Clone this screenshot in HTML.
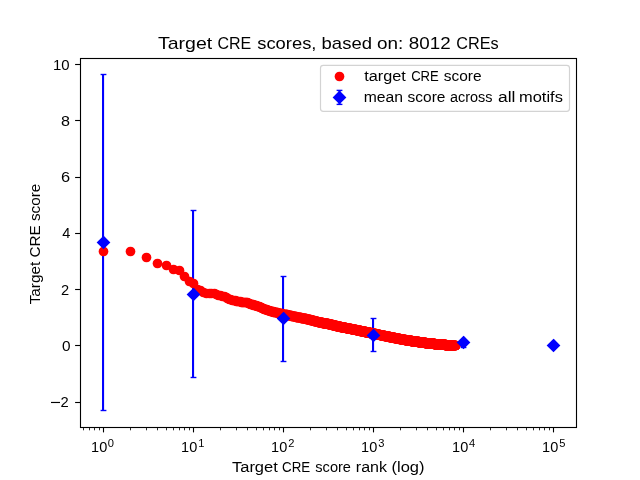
<!DOCTYPE html>
<html><head><meta charset="utf-8"><style>
html,body{margin:0;padding:0;background:#fff;width:640px;height:480px;overflow:hidden}
svg{display:block;will-change:transform}
text{font-family:"Liberation Sans",sans-serif}
</style></head><body>
<svg width="640" height="480" viewBox="0 0 640 480">
<rect width="640" height="480" fill="#fff"/>
<g stroke="#0000ff" stroke-width="2.08"><line x1="103.05" y1="74.5" x2="103.05" y2="410.5"/><line x1="193.05" y1="210.5" x2="193.05" y2="377.5"/><line x1="283.05" y1="276.5" x2="283.05" y2="361.5"/><line x1="373.05" y1="318.5" x2="373.05" y2="351.5"/></g>
<g class="m" fill="#ff0000"><circle cx="103.5" cy="251.5" r="4.86"/><circle cx="130.5" cy="251.5" r="4.86"/><circle cx="146.5" cy="257.5" r="4.86"/><circle cx="157.5" cy="263.5" r="4.86"/><circle cx="166.5" cy="265.5" r="4.86"/><circle cx="173.5" cy="269.5" r="4.86"/><circle cx="179.5" cy="270.5" r="4.86"/><circle cx="184.5" cy="276.5" r="4.86"/><circle cx="189.5" cy="281.5" r="4.86"/><circle cx="193.5" cy="283.5" r="4.86"/><circle cx="197.5" cy="289.5" r="4.86"/><circle cx="200.5" cy="290.5" r="4.86"/><circle cx="203.5" cy="292.5" r="4.86"/><circle cx="206.5" cy="293.5" r="4.86"/><circle cx="209.5" cy="293.5" r="4.86"/><circle cx="211.5" cy="293.5" r="4.86"/><circle cx="214.5" cy="293.5" r="4.86"/><circle cx="216.5" cy="294.5" r="4.86"/><circle cx="218.5" cy="295.5" r="4.86"/><circle cx="220.5" cy="295.5" r="4.86"/><circle cx="222.5" cy="296.5" r="4.86"/><circle cx="224.5" cy="296.5" r="4.86"/><circle cx="226.5" cy="297.5" r="4.86"/><circle cx="227.5" cy="298.5" r="4.86"/><circle cx="229.5" cy="299.5" r="4.86"/><circle cx="230.5" cy="299.5" r="4.86"/><circle cx="232.5" cy="300.5" r="4.86"/><circle cx="233.5" cy="300.5" r="4.86"/><circle cx="235.5" cy="300.5" r="4.86"/><circle cx="236.5" cy="301.5" r="4.86"/><circle cx="237.5" cy="301.5" r="4.86"/><circle cx="238.5" cy="301.5" r="4.86"/><circle cx="240.5" cy="301.5" r="4.86"/><circle cx="241.5" cy="302.5" r="4.86"/><circle cx="242.5" cy="302.5" r="4.86"/><circle cx="243.5" cy="302.5" r="4.86"/><circle cx="244.5" cy="302.5" r="4.86"/><circle cx="245.5" cy="302.5" r="4.86"/><circle cx="246.5" cy="302.5" r="4.86"/><circle cx="247.5" cy="302.5" r="4.86"/><circle cx="248.5" cy="303.5" r="4.86"/><circle cx="249.5" cy="303.5" r="4.86"/><circle cx="250.5" cy="304.5" r="4.86"/><circle cx="251.5" cy="304.5" r="4.86"/><circle cx="252.5" cy="304.5" r="4.86"/><circle cx="253.5" cy="304.5" r="4.86"/><circle cx="253.5" cy="305.5" r="4.86"/><circle cx="254.5" cy="305.5" r="4.86"/><circle cx="255.5" cy="305.5" r="4.86"/><circle cx="256.5" cy="305.5" r="4.86"/><circle cx="257.5" cy="306.5" r="4.86"/><circle cx="257.5" cy="306.5" r="4.86"/><circle cx="258.5" cy="306.5" r="4.86"/><circle cx="259.5" cy="306.5" r="4.86"/><circle cx="260.5" cy="307.5" r="4.86"/><circle cx="260.5" cy="307.5" r="4.86"/><circle cx="261.5" cy="307.5" r="4.86"/><circle cx="262.5" cy="308.5" r="4.86"/><circle cx="262.5" cy="308.5" r="4.86"/><circle cx="263.5" cy="308.5" r="4.86"/><circle cx="264.5" cy="309.5" r="4.86"/><circle cx="264.5" cy="309.5" r="4.86"/><circle cx="265.5" cy="309.5" r="4.86"/><circle cx="266.5" cy="309.5" r="4.86"/><circle cx="266.5" cy="309.5" r="4.86"/><circle cx="267.5" cy="310.5" r="4.86"/><circle cx="267.5" cy="310.5" r="4.86"/><circle cx="268.5" cy="310.5" r="4.86"/><circle cx="268.5" cy="310.5" r="4.86"/><circle cx="269.5" cy="310.5" r="4.86"/><circle cx="270.5" cy="311.5" r="4.86"/><circle cx="270.5" cy="311.5" r="4.86"/><circle cx="271.5" cy="311.5" r="4.86"/><circle cx="271.5" cy="311.5" r="4.86"/><circle cx="272.5" cy="311.5" r="4.86"/><circle cx="272.5" cy="311.5" r="4.86"/><circle cx="273.5" cy="311.5" r="4.86"/><circle cx="273.5" cy="312.5" r="4.86"/><circle cx="274.5" cy="312.5" r="4.86"/><circle cx="274.5" cy="312.5" r="4.86"/><circle cx="275.5" cy="312.5" r="4.86"/><circle cx="275.5" cy="312.5" r="4.86"/><circle cx="276.5" cy="312.5" r="4.86"/><circle cx="276.5" cy="312.5" r="4.86"/><circle cx="277.5" cy="312.5" r="4.86"/><circle cx="277.5" cy="312.5" r="4.86"/><circle cx="278.5" cy="313.5" r="4.86"/><circle cx="278.5" cy="313.5" r="4.86"/><circle cx="278.5" cy="313.5" r="4.86"/><circle cx="279.5" cy="313.5" r="4.86"/><circle cx="279.5" cy="313.5" r="4.86"/><circle cx="280.5" cy="313.5" r="4.86"/><circle cx="280.5" cy="313.5" r="4.86"/><circle cx="281.5" cy="313.5" r="4.86"/><circle cx="281.5" cy="313.5" r="4.86"/><circle cx="281.5" cy="313.5" r="4.86"/><circle cx="282.5" cy="314.5" r="4.86"/><circle cx="282.5" cy="314.5" r="4.86"/><circle cx="283.5" cy="314.5" r="4.86"/><circle cx="283.5" cy="314.5" r="4.86"/><circle cx="283.5" cy="314.5" r="4.86"/><circle cx="284.5" cy="314.5" r="4.86"/><circle cx="284.5" cy="314.5" r="4.86"/><circle cx="284.5" cy="314.5" r="4.86"/><circle cx="285.5" cy="314.5" r="4.86"/><circle cx="285.5" cy="314.5" r="4.86"/><circle cx="286.5" cy="314.5" r="4.86"/><circle cx="286.5" cy="314.5" r="4.86"/><circle cx="286.5" cy="314.5" r="4.86"/><circle cx="287.5" cy="314.5" r="4.86"/><circle cx="287.5" cy="315.5" r="4.86"/><circle cx="287.5" cy="315.5" r="4.86"/><circle cx="288.5" cy="315.5" r="4.86"/><circle cx="288.5" cy="315.5" r="4.86"/><circle cx="288.5" cy="315.5" r="4.86"/><circle cx="289.5" cy="315.5" r="4.86"/><circle cx="289.5" cy="315.5" r="4.86"/><circle cx="289.5" cy="315.5" r="4.86"/><circle cx="290.5" cy="315.5" r="4.86"/><circle cx="290.5" cy="315.5" r="4.86"/><circle cx="290.5" cy="315.5" r="4.86"/><circle cx="291.5" cy="315.5" r="4.86"/><circle cx="291.5" cy="315.5" r="4.86"/><circle cx="291.5" cy="316.5" r="4.86"/><circle cx="292.5" cy="316.5" r="4.86"/><circle cx="292.5" cy="316.5" r="4.86"/><circle cx="292.5" cy="316.5" r="4.86"/><circle cx="293.5" cy="316.5" r="4.86"/><circle cx="293.5" cy="316.5" r="4.86"/><circle cx="293.5" cy="316.5" r="4.86"/><circle cx="294.5" cy="316.5" r="4.86"/><circle cx="294.5" cy="316.5" r="4.86"/><circle cx="294.5" cy="316.5" r="4.86"/><circle cx="294.5" cy="316.5" r="4.86"/><circle cx="295.5" cy="316.5" r="4.86"/><circle cx="295.5" cy="316.5" r="4.86"/><circle cx="295.5" cy="316.5" r="4.86"/><circle cx="296.5" cy="316.5" r="4.86"/><circle cx="296.5" cy="317.5" r="4.86"/><circle cx="296.5" cy="317.5" r="4.86"/><circle cx="296.5" cy="317.5" r="4.86"/><circle cx="297.5" cy="317.5" r="4.86"/><circle cx="297.5" cy="317.5" r="4.86"/><circle cx="297.5" cy="317.5" r="4.86"/><circle cx="297.5" cy="317.5" r="4.86"/><circle cx="298.5" cy="317.5" r="4.86"/><circle cx="298.5" cy="317.5" r="4.86"/><circle cx="298.5" cy="317.5" r="4.86"/><circle cx="299.5" cy="317.5" r="4.86"/><circle cx="299.5" cy="317.5" r="4.86"/><circle cx="299.5" cy="317.5" r="4.86"/><circle cx="299.5" cy="317.5" r="4.86"/><circle cx="300.5" cy="317.5" r="4.86"/><circle cx="300.5" cy="317.5" r="4.86"/><circle cx="300.5" cy="317.5" r="4.86"/><circle cx="300.5" cy="317.5" r="4.86"/><circle cx="301.5" cy="317.5" r="4.86"/><circle cx="301.5" cy="318.5" r="4.86"/><circle cx="301.5" cy="318.5" r="4.86"/><circle cx="301.5" cy="318.5" r="4.86"/><circle cx="302.5" cy="318.5" r="4.86"/><circle cx="302.5" cy="318.5" r="4.86"/><circle cx="302.5" cy="318.5" r="4.86"/><circle cx="302.5" cy="318.5" r="4.86"/><circle cx="303.5" cy="318.5" r="4.86"/><circle cx="303.5" cy="318.5" r="4.86"/><circle cx="303.5" cy="318.5" r="4.86"/><circle cx="303.5" cy="318.5" r="4.86"/><circle cx="303.5" cy="318.5" r="4.86"/><circle cx="304.5" cy="318.5" r="4.86"/><circle cx="304.5" cy="318.5" r="4.86"/><circle cx="304.5" cy="318.5" r="4.86"/><circle cx="304.5" cy="318.5" r="4.86"/><circle cx="305.5" cy="318.5" r="4.86"/><circle cx="305.5" cy="318.5" r="4.86"/><circle cx="305.5" cy="318.5" r="4.86"/><circle cx="305.5" cy="318.5" r="4.86"/><circle cx="305.5" cy="318.5" r="4.86"/><circle cx="306.5" cy="318.5" r="4.86"/><circle cx="306.5" cy="319.5" r="4.86"/><circle cx="306.5" cy="319.5" r="4.86"/><circle cx="306.5" cy="319.5" r="4.86"/><circle cx="307.5" cy="319.5" r="4.86"/><circle cx="307.5" cy="319.5" r="4.86"/><circle cx="307.5" cy="319.5" r="4.86"/><circle cx="307.5" cy="319.5" r="4.86"/><circle cx="307.5" cy="319.5" r="4.86"/><circle cx="308.5" cy="319.5" r="4.86"/><circle cx="308.5" cy="319.5" r="4.86"/><circle cx="308.5" cy="319.5" r="4.86"/><circle cx="308.5" cy="319.5" r="4.86"/><circle cx="308.5" cy="319.5" r="4.86"/><circle cx="309.5" cy="319.5" r="4.86"/><circle cx="309.5" cy="319.5" r="4.86"/><circle cx="309.5" cy="319.5" r="4.86"/><circle cx="309.5" cy="319.5" r="4.86"/><circle cx="309.5" cy="319.5" r="4.86"/><circle cx="310.5" cy="319.5" r="4.86"/><circle cx="310.5" cy="319.5" r="4.86"/><circle cx="310.5" cy="320.5" r="4.86"/><circle cx="310.5" cy="320.5" r="4.86"/><circle cx="310.5" cy="320.5" r="4.86"/><circle cx="311.5" cy="320.5" r="4.86"/><circle cx="311.5" cy="320.5" r="4.86"/><circle cx="311.5" cy="320.5" r="4.86"/><circle cx="311.5" cy="320.5" r="4.86"/><circle cx="311.5" cy="320.5" r="4.86"/><circle cx="312.5" cy="320.5" r="4.86"/><circle cx="312.5" cy="320.5" r="4.86"/><circle cx="312.5" cy="320.5" r="4.86"/><circle cx="312.5" cy="320.5" r="4.86"/><circle cx="312.5" cy="320.5" r="4.86"/><circle cx="313.5" cy="320.5" r="4.86"/><circle cx="313.5" cy="320.5" r="4.86"/><circle cx="313.5" cy="320.5" r="4.86"/><circle cx="313.5" cy="320.5" r="4.86"/><circle cx="313.5" cy="320.5" r="4.86"/><circle cx="313.5" cy="320.5" r="4.86"/><circle cx="314.5" cy="320.5" r="4.86"/><circle cx="314.5" cy="321.5" r="4.86"/><circle cx="314.5" cy="321.5" r="4.86"/><circle cx="314.5" cy="321.5" r="4.86"/><circle cx="314.5" cy="321.5" r="4.86"/><circle cx="314.5" cy="321.5" r="4.86"/><circle cx="315.5" cy="321.5" r="4.86"/><circle cx="315.5" cy="321.5" r="4.86"/><circle cx="315.5" cy="321.5" r="4.86"/><circle cx="315.5" cy="321.5" r="4.86"/><circle cx="315.5" cy="321.5" r="4.86"/><circle cx="316.5" cy="321.5" r="4.86"/><circle cx="316.5" cy="321.5" r="4.86"/><circle cx="316.5" cy="321.5" r="4.86"/><circle cx="316.5" cy="321.5" r="4.86"/><circle cx="316.5" cy="321.5" r="4.86"/><circle cx="316.5" cy="321.5" r="4.86"/><circle cx="317.5" cy="321.5" r="4.86"/><circle cx="317.5" cy="321.5" r="4.86"/><circle cx="317.5" cy="321.5" r="4.86"/><circle cx="317.5" cy="321.5" r="4.86"/><circle cx="317.5" cy="321.5" r="4.86"/><circle cx="317.5" cy="321.5" r="4.86"/><circle cx="317.5" cy="321.5" r="4.86"/><circle cx="318.5" cy="322.5" r="4.86"/><circle cx="318.5" cy="322.5" r="4.86"/><circle cx="318.5" cy="322.5" r="4.86"/><circle cx="318.5" cy="322.5" r="4.86"/><circle cx="318.5" cy="322.5" r="4.86"/><circle cx="318.5" cy="322.5" r="4.86"/><circle cx="319.5" cy="322.5" r="4.86"/><circle cx="319.5" cy="322.5" r="4.86"/><circle cx="319.5" cy="322.5" r="4.86"/><circle cx="319.5" cy="322.5" r="4.86"/><circle cx="319.5" cy="322.5" r="4.86"/><circle cx="319.5" cy="322.5" r="4.86"/><circle cx="320.5" cy="322.5" r="4.86"/><circle cx="320.5" cy="322.5" r="4.86"/><circle cx="320.5" cy="322.5" r="4.86"/><circle cx="320.5" cy="322.5" r="4.86"/><circle cx="320.5" cy="322.5" r="4.86"/><circle cx="320.5" cy="322.5" r="4.86"/><circle cx="320.5" cy="322.5" r="4.86"/><circle cx="321.5" cy="322.5" r="4.86"/><circle cx="321.5" cy="322.5" r="4.86"/><circle cx="321.5" cy="322.5" r="4.86"/><circle cx="321.5" cy="322.5" r="4.86"/><circle cx="321.5" cy="322.5" r="4.86"/><circle cx="321.5" cy="322.5" r="4.86"/><circle cx="321.5" cy="322.5" r="4.86"/><circle cx="322.5" cy="322.5" r="4.86"/><circle cx="322.5" cy="322.5" r="4.86"/><circle cx="322.5" cy="322.5" r="4.86"/><circle cx="322.5" cy="322.5" r="4.86"/><circle cx="322.5" cy="322.5" r="4.86"/><circle cx="322.5" cy="323.5" r="4.86"/><circle cx="322.5" cy="323.5" r="4.86"/><circle cx="323.5" cy="323.5" r="4.86"/><circle cx="323.5" cy="323.5" r="4.86"/><circle cx="323.5" cy="323.5" r="4.86"/><circle cx="323.5" cy="323.5" r="4.86"/><circle cx="323.5" cy="323.5" r="4.86"/><circle cx="323.5" cy="323.5" r="4.86"/><circle cx="323.5" cy="323.5" r="4.86"/><circle cx="324.5" cy="323.5" r="4.86"/><circle cx="324.5" cy="323.5" r="4.86"/><circle cx="324.5" cy="323.5" r="4.86"/><circle cx="324.5" cy="323.5" r="4.86"/><circle cx="324.5" cy="323.5" r="4.86"/><circle cx="324.5" cy="323.5" r="4.86"/><circle cx="324.5" cy="323.5" r="4.86"/><circle cx="325.5" cy="323.5" r="4.86"/><circle cx="325.5" cy="323.5" r="4.86"/><circle cx="325.5" cy="323.5" r="4.86"/><circle cx="325.5" cy="323.5" r="4.86"/><circle cx="325.5" cy="323.5" r="4.86"/><circle cx="325.5" cy="323.5" r="4.86"/><circle cx="325.5" cy="323.5" r="4.86"/><circle cx="325.5" cy="323.5" r="4.86"/><circle cx="326.5" cy="323.5" r="4.86"/><circle cx="326.5" cy="323.5" r="4.86"/><circle cx="326.5" cy="323.5" r="4.86"/><circle cx="326.5" cy="323.5" r="4.86"/><circle cx="326.5" cy="323.5" r="4.86"/><circle cx="326.5" cy="323.5" r="4.86"/><circle cx="326.5" cy="323.5" r="4.86"/><circle cx="327.5" cy="323.5" r="4.86"/><circle cx="327.5" cy="323.5" r="4.86"/><circle cx="327.5" cy="323.5" r="4.86"/><circle cx="327.5" cy="323.5" r="4.86"/><circle cx="327.5" cy="323.5" r="4.86"/><circle cx="327.5" cy="323.5" r="4.86"/><circle cx="327.5" cy="323.5" r="4.86"/><circle cx="327.5" cy="323.5" r="4.86"/><circle cx="328.5" cy="323.5" r="4.86"/><circle cx="328.5" cy="323.5" r="4.86"/><circle cx="328.5" cy="324.5" r="4.86"/><circle cx="328.5" cy="324.5" r="4.86"/><circle cx="328.5" cy="324.5" r="4.86"/><circle cx="328.5" cy="324.5" r="4.86"/><circle cx="328.5" cy="324.5" r="4.86"/><circle cx="328.5" cy="324.5" r="4.86"/><circle cx="329.5" cy="324.5" r="4.86"/><circle cx="329.5" cy="324.5" r="4.86"/><circle cx="329.5" cy="324.5" r="4.86"/><circle cx="329.5" cy="324.5" r="4.86"/><circle cx="329.5" cy="324.5" r="4.86"/><circle cx="329.5" cy="324.5" r="4.86"/><circle cx="329.5" cy="324.5" r="4.86"/><circle cx="329.5" cy="324.5" r="4.86"/><circle cx="330.5" cy="324.5" r="4.86"/><circle cx="330.5" cy="324.5" r="4.86"/><circle cx="330.5" cy="324.5" r="4.86"/><circle cx="330.5" cy="324.5" r="4.86"/><circle cx="330.5" cy="324.5" r="4.86"/><circle cx="330.5" cy="324.5" r="4.86"/><circle cx="330.5" cy="324.5" r="4.86"/><circle cx="330.5" cy="324.5" r="4.86"/><circle cx="331.5" cy="324.5" r="4.86"/><circle cx="331.5" cy="324.5" r="4.86"/><circle cx="331.5" cy="324.5" r="4.86"/><circle cx="331.5" cy="324.5" r="4.86"/><circle cx="331.5" cy="324.5" r="4.86"/><circle cx="331.5" cy="324.5" r="4.86"/><circle cx="331.5" cy="324.5" r="4.86"/><circle cx="331.5" cy="324.5" r="4.86"/><circle cx="332.5" cy="324.5" r="4.86"/><circle cx="332.5" cy="324.5" r="4.86"/><circle cx="332.5" cy="324.5" r="4.86"/><circle cx="332.5" cy="324.5" r="4.86"/><circle cx="332.5" cy="325.5" r="4.86"/><circle cx="332.5" cy="325.5" r="4.86"/><circle cx="332.5" cy="325.5" r="4.86"/><circle cx="332.5" cy="325.5" r="4.86"/><circle cx="332.5" cy="325.5" r="4.86"/><circle cx="333.5" cy="325.5" r="4.86"/><circle cx="333.5" cy="325.5" r="4.86"/><circle cx="333.5" cy="325.5" r="4.86"/><circle cx="333.5" cy="325.5" r="4.86"/><circle cx="333.5" cy="325.5" r="4.86"/><circle cx="333.5" cy="325.5" r="4.86"/><circle cx="333.5" cy="325.5" r="4.86"/><circle cx="333.5" cy="325.5" r="4.86"/><circle cx="334.5" cy="325.5" r="4.86"/><circle cx="334.5" cy="325.5" r="4.86"/><circle cx="334.5" cy="325.5" r="4.86"/><circle cx="334.5" cy="325.5" r="4.86"/><circle cx="334.5" cy="325.5" r="4.86"/><circle cx="334.5" cy="325.5" r="4.86"/><circle cx="334.5" cy="325.5" r="4.86"/><circle cx="334.5" cy="325.5" r="4.86"/><circle cx="335.5" cy="325.5" r="4.86"/><circle cx="335.5" cy="325.5" r="4.86"/><circle cx="335.5" cy="325.5" r="4.86"/><circle cx="335.5" cy="325.5" r="4.86"/><circle cx="335.5" cy="325.5" r="4.86"/><circle cx="335.5" cy="325.5" r="4.86"/><circle cx="335.5" cy="325.5" r="4.86"/><circle cx="335.5" cy="325.5" r="4.86"/><circle cx="336.5" cy="325.5" r="4.86"/><circle cx="336.5" cy="325.5" r="4.86"/><circle cx="336.5" cy="325.5" r="4.86"/><circle cx="336.5" cy="325.5" r="4.86"/><circle cx="336.5" cy="326.5" r="4.86"/><circle cx="336.5" cy="326.5" r="4.86"/><circle cx="336.5" cy="326.5" r="4.86"/><circle cx="336.5" cy="326.5" r="4.86"/><circle cx="336.5" cy="326.5" r="4.86"/><circle cx="336.5" cy="326.5" r="4.86"/><circle cx="337.5" cy="326.5" r="4.86"/><circle cx="337.5" cy="326.5" r="4.86"/><circle cx="337.5" cy="326.5" r="4.86"/><circle cx="337.5" cy="326.5" r="4.86"/><circle cx="337.5" cy="326.5" r="4.86"/><circle cx="337.5" cy="326.5" r="4.86"/><circle cx="337.5" cy="326.5" r="4.86"/><circle cx="337.5" cy="326.5" r="4.86"/><circle cx="338.5" cy="326.5" r="4.86"/><circle cx="338.5" cy="326.5" r="4.86"/><circle cx="338.5" cy="326.5" r="4.86"/><circle cx="338.5" cy="326.5" r="4.86"/><circle cx="338.5" cy="326.5" r="4.86"/><circle cx="338.5" cy="326.5" r="4.86"/><circle cx="338.5" cy="326.5" r="4.86"/><circle cx="338.5" cy="326.5" r="4.86"/><circle cx="339.5" cy="326.5" r="4.86"/><circle cx="339.5" cy="326.5" r="4.86"/><circle cx="339.5" cy="326.5" r="4.86"/><circle cx="339.5" cy="326.5" r="4.86"/><circle cx="339.5" cy="326.5" r="4.86"/><circle cx="339.5" cy="326.5" r="4.86"/><circle cx="339.5" cy="326.5" r="4.86"/><circle cx="339.5" cy="326.5" r="4.86"/><circle cx="340.5" cy="326.5" r="4.86"/><circle cx="340.5" cy="326.5" r="4.86"/><circle cx="340.5" cy="326.5" r="4.86"/><circle cx="340.5" cy="326.5" r="4.86"/><circle cx="340.5" cy="326.5" r="4.86"/><circle cx="340.5" cy="326.5" r="4.86"/><circle cx="340.5" cy="326.5" r="4.86"/><circle cx="340.5" cy="326.5" r="4.86"/><circle cx="340.5" cy="327.5" r="4.86"/><circle cx="340.5" cy="327.5" r="4.86"/><circle cx="341.5" cy="327.5" r="4.86"/><circle cx="341.5" cy="327.5" r="4.86"/><circle cx="341.5" cy="327.5" r="4.86"/><circle cx="341.5" cy="327.5" r="4.86"/><circle cx="341.5" cy="327.5" r="4.86"/><circle cx="341.5" cy="327.5" r="4.86"/><circle cx="341.5" cy="327.5" r="4.86"/><circle cx="341.5" cy="327.5" r="4.86"/><circle cx="342.5" cy="327.5" r="4.86"/><circle cx="342.5" cy="327.5" r="4.86"/><circle cx="342.5" cy="327.5" r="4.86"/><circle cx="342.5" cy="327.5" r="4.86"/><circle cx="342.5" cy="327.5" r="4.86"/><circle cx="342.5" cy="327.5" r="4.86"/><circle cx="342.5" cy="327.5" r="4.86"/><circle cx="342.5" cy="327.5" r="4.86"/><circle cx="343.5" cy="327.5" r="4.86"/><circle cx="343.5" cy="327.5" r="4.86"/><circle cx="343.5" cy="327.5" r="4.86"/><circle cx="343.5" cy="327.5" r="4.86"/><circle cx="343.5" cy="327.5" r="4.86"/><circle cx="343.5" cy="327.5" r="4.86"/><circle cx="343.5" cy="327.5" r="4.86"/><circle cx="343.5" cy="327.5" r="4.86"/><circle cx="344.5" cy="327.5" r="4.86"/><circle cx="344.5" cy="327.5" r="4.86"/><circle cx="344.5" cy="327.5" r="4.86"/><circle cx="344.5" cy="327.5" r="4.86"/><circle cx="344.5" cy="327.5" r="4.86"/><circle cx="344.5" cy="327.5" r="4.86"/><circle cx="344.5" cy="327.5" r="4.86"/><circle cx="344.5" cy="327.5" r="4.86"/><circle cx="345.5" cy="327.5" r="4.86"/><circle cx="345.5" cy="327.5" r="4.86"/><circle cx="345.5" cy="327.5" r="4.86"/><circle cx="345.5" cy="327.5" r="4.86"/><circle cx="345.5" cy="327.5" r="4.86"/><circle cx="345.5" cy="327.5" r="4.86"/><circle cx="345.5" cy="327.5" r="4.86"/><circle cx="345.5" cy="327.5" r="4.86"/><circle cx="346.5" cy="328.5" r="4.86"/><circle cx="346.5" cy="328.5" r="4.86"/><circle cx="346.5" cy="328.5" r="4.86"/><circle cx="346.5" cy="328.5" r="4.86"/><circle cx="346.5" cy="328.5" r="4.86"/><circle cx="346.5" cy="328.5" r="4.86"/><circle cx="346.5" cy="328.5" r="4.86"/><circle cx="346.5" cy="328.5" r="4.86"/><circle cx="347.5" cy="328.5" r="4.86"/><circle cx="347.5" cy="328.5" r="4.86"/><circle cx="347.5" cy="328.5" r="4.86"/><circle cx="347.5" cy="328.5" r="4.86"/><circle cx="347.5" cy="328.5" r="4.86"/><circle cx="347.5" cy="328.5" r="4.86"/><circle cx="347.5" cy="328.5" r="4.86"/><circle cx="347.5" cy="328.5" r="4.86"/><circle cx="348.5" cy="328.5" r="4.86"/><circle cx="348.5" cy="328.5" r="4.86"/><circle cx="348.5" cy="328.5" r="4.86"/><circle cx="348.5" cy="328.5" r="4.86"/><circle cx="348.5" cy="328.5" r="4.86"/><circle cx="348.5" cy="328.5" r="4.86"/><circle cx="348.5" cy="328.5" r="4.86"/><circle cx="348.5" cy="328.5" r="4.86"/><circle cx="349.5" cy="328.5" r="4.86"/><circle cx="349.5" cy="328.5" r="4.86"/><circle cx="349.5" cy="328.5" r="4.86"/><circle cx="349.5" cy="328.5" r="4.86"/><circle cx="349.5" cy="328.5" r="4.86"/><circle cx="349.5" cy="328.5" r="4.86"/><circle cx="349.5" cy="328.5" r="4.86"/><circle cx="349.5" cy="328.5" r="4.86"/><circle cx="350.5" cy="328.5" r="4.86"/><circle cx="350.5" cy="328.5" r="4.86"/><circle cx="350.5" cy="328.5" r="4.86"/><circle cx="350.5" cy="328.5" r="4.86"/><circle cx="350.5" cy="328.5" r="4.86"/><circle cx="350.5" cy="328.5" r="4.86"/><circle cx="350.5" cy="328.5" r="4.86"/><circle cx="350.5" cy="328.5" r="4.86"/><circle cx="351.5" cy="328.5" r="4.86"/><circle cx="351.5" cy="329.5" r="4.86"/><circle cx="351.5" cy="329.5" r="4.86"/><circle cx="351.5" cy="329.5" r="4.86"/><circle cx="351.5" cy="329.5" r="4.86"/><circle cx="351.5" cy="329.5" r="4.86"/><circle cx="351.5" cy="329.5" r="4.86"/><circle cx="351.5" cy="329.5" r="4.86"/><circle cx="351.5" cy="329.5" r="4.86"/><circle cx="352.5" cy="329.5" r="4.86"/><circle cx="352.5" cy="329.5" r="4.86"/><circle cx="352.5" cy="329.5" r="4.86"/><circle cx="352.5" cy="329.5" r="4.86"/><circle cx="352.5" cy="329.5" r="4.86"/><circle cx="352.5" cy="329.5" r="4.86"/><circle cx="352.5" cy="329.5" r="4.86"/><circle cx="352.5" cy="329.5" r="4.86"/><circle cx="353.5" cy="329.5" r="4.86"/><circle cx="353.5" cy="329.5" r="4.86"/><circle cx="353.5" cy="329.5" r="4.86"/><circle cx="353.5" cy="329.5" r="4.86"/><circle cx="353.5" cy="329.5" r="4.86"/><circle cx="353.5" cy="329.5" r="4.86"/><circle cx="353.5" cy="329.5" r="4.86"/><circle cx="353.5" cy="329.5" r="4.86"/><circle cx="354.5" cy="329.5" r="4.86"/><circle cx="354.5" cy="329.5" r="4.86"/><circle cx="354.5" cy="329.5" r="4.86"/><circle cx="354.5" cy="329.5" r="4.86"/><circle cx="354.5" cy="329.5" r="4.86"/><circle cx="354.5" cy="329.5" r="4.86"/><circle cx="354.5" cy="329.5" r="4.86"/><circle cx="354.5" cy="329.5" r="4.86"/><circle cx="355.5" cy="329.5" r="4.86"/><circle cx="355.5" cy="329.5" r="4.86"/><circle cx="355.5" cy="329.5" r="4.86"/><circle cx="355.5" cy="329.5" r="4.86"/><circle cx="355.5" cy="329.5" r="4.86"/><circle cx="355.5" cy="329.5" r="4.86"/><circle cx="355.5" cy="329.5" r="4.86"/><circle cx="355.5" cy="329.5" r="4.86"/><circle cx="356.5" cy="329.5" r="4.86"/><circle cx="356.5" cy="330.5" r="4.86"/><circle cx="356.5" cy="330.5" r="4.86"/><circle cx="356.5" cy="330.5" r="4.86"/><circle cx="356.5" cy="330.5" r="4.86"/><circle cx="356.5" cy="330.5" r="4.86"/><circle cx="356.5" cy="330.5" r="4.86"/><circle cx="356.5" cy="330.5" r="4.86"/><circle cx="356.5" cy="330.5" r="4.86"/><circle cx="357.5" cy="330.5" r="4.86"/><circle cx="357.5" cy="330.5" r="4.86"/><circle cx="357.5" cy="330.5" r="4.86"/><circle cx="357.5" cy="330.5" r="4.86"/><circle cx="357.5" cy="330.5" r="4.86"/><circle cx="357.5" cy="330.5" r="4.86"/><circle cx="357.5" cy="330.5" r="4.86"/><circle cx="357.5" cy="330.5" r="4.86"/><circle cx="358.5" cy="330.5" r="4.86"/><circle cx="358.5" cy="330.5" r="4.86"/><circle cx="358.5" cy="330.5" r="4.86"/><circle cx="358.5" cy="330.5" r="4.86"/><circle cx="358.5" cy="330.5" r="4.86"/><circle cx="358.5" cy="330.5" r="4.86"/><circle cx="358.5" cy="330.5" r="4.86"/><circle cx="358.5" cy="330.5" r="4.86"/><circle cx="359.5" cy="330.5" r="4.86"/><circle cx="359.5" cy="330.5" r="4.86"/><circle cx="359.5" cy="330.5" r="4.86"/><circle cx="359.5" cy="330.5" r="4.86"/><circle cx="359.5" cy="330.5" r="4.86"/><circle cx="359.5" cy="330.5" r="4.86"/><circle cx="359.5" cy="330.5" r="4.86"/><circle cx="359.5" cy="330.5" r="4.86"/><circle cx="360.5" cy="330.5" r="4.86"/><circle cx="360.5" cy="330.5" r="4.86"/><circle cx="360.5" cy="330.5" r="4.86"/><circle cx="360.5" cy="330.5" r="4.86"/><circle cx="360.5" cy="330.5" r="4.86"/><circle cx="360.5" cy="330.5" r="4.86"/><circle cx="360.5" cy="330.5" r="4.86"/><circle cx="360.5" cy="330.5" r="4.86"/><circle cx="360.5" cy="331.5" r="4.86"/><circle cx="360.5" cy="331.5" r="4.86"/><circle cx="360.5" cy="331.5" r="4.86"/><circle cx="360.5" cy="331.5" r="4.86"/><circle cx="361.5" cy="331.5" r="4.86"/><circle cx="361.5" cy="331.5" r="4.86"/><circle cx="361.5" cy="331.5" r="4.86"/><circle cx="361.5" cy="331.5" r="4.86"/><circle cx="361.5" cy="331.5" r="4.86"/><circle cx="361.5" cy="331.5" r="4.86"/><circle cx="361.5" cy="331.5" r="4.86"/><circle cx="361.5" cy="331.5" r="4.86"/><circle cx="362.5" cy="331.5" r="4.86"/><circle cx="362.5" cy="331.5" r="4.86"/><circle cx="362.5" cy="331.5" r="4.86"/><circle cx="362.5" cy="331.5" r="4.86"/><circle cx="362.5" cy="331.5" r="4.86"/><circle cx="362.5" cy="331.5" r="4.86"/><circle cx="362.5" cy="331.5" r="4.86"/><circle cx="362.5" cy="331.5" r="4.86"/><circle cx="363.5" cy="331.5" r="4.86"/><circle cx="363.5" cy="331.5" r="4.86"/><circle cx="363.5" cy="331.5" r="4.86"/><circle cx="363.5" cy="331.5" r="4.86"/><circle cx="363.5" cy="331.5" r="4.86"/><circle cx="363.5" cy="331.5" r="4.86"/><circle cx="363.5" cy="331.5" r="4.86"/><circle cx="363.5" cy="331.5" r="4.86"/><circle cx="364.5" cy="331.5" r="4.86"/><circle cx="364.5" cy="331.5" r="4.86"/><circle cx="364.5" cy="331.5" r="4.86"/><circle cx="364.5" cy="331.5" r="4.86"/><circle cx="364.5" cy="331.5" r="4.86"/><circle cx="364.5" cy="331.5" r="4.86"/><circle cx="364.5" cy="331.5" r="4.86"/><circle cx="364.5" cy="331.5" r="4.86"/><circle cx="365.5" cy="331.5" r="4.86"/><circle cx="365.5" cy="331.5" r="4.86"/><circle cx="365.5" cy="331.5" r="4.86"/><circle cx="365.5" cy="331.5" r="4.86"/><circle cx="365.5" cy="331.5" r="4.86"/><circle cx="365.5" cy="331.5" r="4.86"/><circle cx="365.5" cy="331.5" r="4.86"/><circle cx="365.5" cy="331.5" r="4.86"/><circle cx="365.5" cy="332.5" r="4.86"/><circle cx="365.5" cy="332.5" r="4.86"/><circle cx="365.5" cy="332.5" r="4.86"/><circle cx="365.5" cy="332.5" r="4.86"/><circle cx="365.5" cy="332.5" r="4.86"/><circle cx="365.5" cy="332.5" r="4.86"/><circle cx="365.5" cy="332.5" r="4.86"/><circle cx="365.5" cy="332.5" r="4.86"/><circle cx="366.5" cy="332.5" r="4.86"/><circle cx="366.5" cy="332.5" r="4.86"/><circle cx="366.5" cy="332.5" r="4.86"/><circle cx="366.5" cy="332.5" r="4.86"/><circle cx="366.5" cy="332.5" r="4.86"/><circle cx="366.5" cy="332.5" r="4.86"/><circle cx="366.5" cy="332.5" r="4.86"/><circle cx="366.5" cy="332.5" r="4.86"/><circle cx="367.5" cy="332.5" r="4.86"/><circle cx="367.5" cy="332.5" r="4.86"/><circle cx="367.5" cy="332.5" r="4.86"/><circle cx="367.5" cy="332.5" r="4.86"/><circle cx="367.5" cy="332.5" r="4.86"/><circle cx="367.5" cy="332.5" r="4.86"/><circle cx="367.5" cy="332.5" r="4.86"/><circle cx="367.5" cy="332.5" r="4.86"/><circle cx="368.5" cy="332.5" r="4.86"/><circle cx="368.5" cy="332.5" r="4.86"/><circle cx="368.5" cy="332.5" r="4.86"/><circle cx="368.5" cy="332.5" r="4.86"/><circle cx="368.5" cy="332.5" r="4.86"/><circle cx="368.5" cy="332.5" r="4.86"/><circle cx="368.5" cy="332.5" r="4.86"/><circle cx="368.5" cy="332.5" r="4.86"/><circle cx="369.5" cy="332.5" r="4.86"/><circle cx="369.5" cy="332.5" r="4.86"/><circle cx="369.5" cy="332.5" r="4.86"/><circle cx="369.5" cy="332.5" r="4.86"/><circle cx="369.5" cy="332.5" r="4.86"/><circle cx="369.5" cy="332.5" r="4.86"/><circle cx="369.5" cy="332.5" r="4.86"/><circle cx="369.5" cy="332.5" r="4.86"/><circle cx="370.5" cy="332.5" r="4.86"/><circle cx="370.5" cy="332.5" r="4.86"/><circle cx="370.5" cy="332.5" r="4.86"/><circle cx="370.5" cy="332.5" r="4.86"/><circle cx="370.5" cy="332.5" r="4.86"/><circle cx="370.5" cy="332.5" r="4.86"/><circle cx="370.5" cy="332.5" r="4.86"/><circle cx="370.5" cy="333.5" r="4.86"/><circle cx="370.5" cy="333.5" r="4.86"/><circle cx="370.5" cy="333.5" r="4.86"/><circle cx="370.5" cy="333.5" r="4.86"/><circle cx="370.5" cy="333.5" r="4.86"/><circle cx="370.5" cy="333.5" r="4.86"/><circle cx="370.5" cy="333.5" r="4.86"/><circle cx="370.5" cy="333.5" r="4.86"/><circle cx="371.5" cy="333.5" r="4.86"/><circle cx="371.5" cy="333.5" r="4.86"/><circle cx="371.5" cy="333.5" r="4.86"/><circle cx="371.5" cy="333.5" r="4.86"/><circle cx="371.5" cy="333.5" r="4.86"/><circle cx="371.5" cy="333.5" r="4.86"/><circle cx="371.5" cy="333.5" r="4.86"/><circle cx="371.5" cy="333.5" r="4.86"/><circle cx="372.5" cy="333.5" r="4.86"/><circle cx="372.5" cy="333.5" r="4.86"/><circle cx="372.5" cy="333.5" r="4.86"/><circle cx="372.5" cy="333.5" r="4.86"/><circle cx="372.5" cy="333.5" r="4.86"/><circle cx="372.5" cy="333.5" r="4.86"/><circle cx="372.5" cy="333.5" r="4.86"/><circle cx="372.5" cy="333.5" r="4.86"/><circle cx="373.5" cy="333.5" r="4.86"/><circle cx="373.5" cy="333.5" r="4.86"/><circle cx="373.5" cy="333.5" r="4.86"/><circle cx="373.5" cy="333.5" r="4.86"/><circle cx="373.5" cy="333.5" r="4.86"/><circle cx="373.5" cy="333.5" r="4.86"/><circle cx="373.5" cy="333.5" r="4.86"/><circle cx="373.5" cy="333.5" r="4.86"/><circle cx="374.5" cy="333.5" r="4.86"/><circle cx="374.5" cy="333.5" r="4.86"/><circle cx="374.5" cy="333.5" r="4.86"/><circle cx="374.5" cy="333.5" r="4.86"/><circle cx="374.5" cy="333.5" r="4.86"/><circle cx="374.5" cy="333.5" r="4.86"/><circle cx="374.5" cy="333.5" r="4.86"/><circle cx="374.5" cy="333.5" r="4.86"/><circle cx="375.5" cy="333.5" r="4.86"/><circle cx="375.5" cy="333.5" r="4.86"/><circle cx="375.5" cy="333.5" r="4.86"/><circle cx="375.5" cy="333.5" r="4.86"/><circle cx="375.5" cy="334.5" r="4.86"/><circle cx="375.5" cy="334.5" r="4.86"/><circle cx="375.5" cy="334.5" r="4.86"/><circle cx="375.5" cy="334.5" r="4.86"/><circle cx="375.5" cy="334.5" r="4.86"/><circle cx="375.5" cy="334.5" r="4.86"/><circle cx="375.5" cy="334.5" r="4.86"/><circle cx="375.5" cy="334.5" r="4.86"/><circle cx="376.5" cy="334.5" r="4.86"/><circle cx="376.5" cy="334.5" r="4.86"/><circle cx="376.5" cy="334.5" r="4.86"/><circle cx="376.5" cy="334.5" r="4.86"/><circle cx="376.5" cy="334.5" r="4.86"/><circle cx="376.5" cy="334.5" r="4.86"/><circle cx="376.5" cy="334.5" r="4.86"/><circle cx="376.5" cy="334.5" r="4.86"/><circle cx="377.5" cy="334.5" r="4.86"/><circle cx="377.5" cy="334.5" r="4.86"/><circle cx="377.5" cy="334.5" r="4.86"/><circle cx="377.5" cy="334.5" r="4.86"/><circle cx="377.5" cy="334.5" r="4.86"/><circle cx="377.5" cy="334.5" r="4.86"/><circle cx="377.5" cy="334.5" r="4.86"/><circle cx="377.5" cy="334.5" r="4.86"/><circle cx="378.5" cy="334.5" r="4.86"/><circle cx="378.5" cy="334.5" r="4.86"/><circle cx="378.5" cy="334.5" r="4.86"/><circle cx="378.5" cy="334.5" r="4.86"/><circle cx="378.5" cy="334.5" r="4.86"/><circle cx="378.5" cy="334.5" r="4.86"/><circle cx="378.5" cy="334.5" r="4.86"/><circle cx="378.5" cy="334.5" r="4.86"/><circle cx="379.5" cy="334.5" r="4.86"/><circle cx="379.5" cy="334.5" r="4.86"/><circle cx="379.5" cy="334.5" r="4.86"/><circle cx="379.5" cy="334.5" r="4.86"/><circle cx="379.5" cy="334.5" r="4.86"/><circle cx="379.5" cy="334.5" r="4.86"/><circle cx="379.5" cy="334.5" r="4.86"/><circle cx="379.5" cy="334.5" r="4.86"/><circle cx="380.5" cy="335.5" r="4.86"/><circle cx="380.5" cy="335.5" r="4.86"/><circle cx="380.5" cy="335.5" r="4.86"/><circle cx="380.5" cy="335.5" r="4.86"/><circle cx="380.5" cy="335.5" r="4.86"/><circle cx="380.5" cy="335.5" r="4.86"/><circle cx="380.5" cy="335.5" r="4.86"/><circle cx="380.5" cy="335.5" r="4.86"/><circle cx="381.5" cy="335.5" r="4.86"/><circle cx="381.5" cy="335.5" r="4.86"/><circle cx="381.5" cy="335.5" r="4.86"/><circle cx="381.5" cy="335.5" r="4.86"/><circle cx="381.5" cy="335.5" r="4.86"/><circle cx="381.5" cy="335.5" r="4.86"/><circle cx="381.5" cy="335.5" r="4.86"/><circle cx="381.5" cy="335.5" r="4.86"/><circle cx="382.5" cy="335.5" r="4.86"/><circle cx="382.5" cy="335.5" r="4.86"/><circle cx="382.5" cy="335.5" r="4.86"/><circle cx="382.5" cy="335.5" r="4.86"/><circle cx="382.5" cy="335.5" r="4.86"/><circle cx="382.5" cy="335.5" r="4.86"/><circle cx="382.5" cy="335.5" r="4.86"/><circle cx="382.5" cy="335.5" r="4.86"/><circle cx="383.5" cy="335.5" r="4.86"/><circle cx="383.5" cy="335.5" r="4.86"/><circle cx="383.5" cy="335.5" r="4.86"/><circle cx="383.5" cy="335.5" r="4.86"/><circle cx="383.5" cy="335.5" r="4.86"/><circle cx="383.5" cy="335.5" r="4.86"/><circle cx="383.5" cy="335.5" r="4.86"/><circle cx="383.5" cy="335.5" r="4.86"/><circle cx="384.5" cy="335.5" r="4.86"/><circle cx="384.5" cy="335.5" r="4.86"/><circle cx="384.5" cy="335.5" r="4.86"/><circle cx="384.5" cy="335.5" r="4.86"/><circle cx="384.5" cy="335.5" r="4.86"/><circle cx="384.5" cy="335.5" r="4.86"/><circle cx="384.5" cy="335.5" r="4.86"/><circle cx="384.5" cy="335.5" r="4.86"/><circle cx="384.5" cy="336.5" r="4.86"/><circle cx="384.5" cy="336.5" r="4.86"/><circle cx="385.5" cy="336.5" r="4.86"/><circle cx="385.5" cy="336.5" r="4.86"/><circle cx="385.5" cy="336.5" r="4.86"/><circle cx="385.5" cy="336.5" r="4.86"/><circle cx="385.5" cy="336.5" r="4.86"/><circle cx="385.5" cy="336.5" r="4.86"/><circle cx="385.5" cy="336.5" r="4.86"/><circle cx="385.5" cy="336.5" r="4.86"/><circle cx="386.5" cy="336.5" r="4.86"/><circle cx="386.5" cy="336.5" r="4.86"/><circle cx="386.5" cy="336.5" r="4.86"/><circle cx="386.5" cy="336.5" r="4.86"/><circle cx="386.5" cy="336.5" r="4.86"/><circle cx="386.5" cy="336.5" r="4.86"/><circle cx="386.5" cy="336.5" r="4.86"/><circle cx="386.5" cy="336.5" r="4.86"/><circle cx="387.5" cy="336.5" r="4.86"/><circle cx="387.5" cy="336.5" r="4.86"/><circle cx="387.5" cy="336.5" r="4.86"/><circle cx="387.5" cy="336.5" r="4.86"/><circle cx="387.5" cy="336.5" r="4.86"/><circle cx="387.5" cy="336.5" r="4.86"/><circle cx="387.5" cy="336.5" r="4.86"/><circle cx="387.5" cy="336.5" r="4.86"/><circle cx="388.5" cy="336.5" r="4.86"/><circle cx="388.5" cy="336.5" r="4.86"/><circle cx="388.5" cy="336.5" r="4.86"/><circle cx="388.5" cy="336.5" r="4.86"/><circle cx="388.5" cy="336.5" r="4.86"/><circle cx="388.5" cy="336.5" r="4.86"/><circle cx="388.5" cy="336.5" r="4.86"/><circle cx="388.5" cy="336.5" r="4.86"/><circle cx="389.5" cy="336.5" r="4.86"/><circle cx="389.5" cy="336.5" r="4.86"/><circle cx="389.5" cy="336.5" r="4.86"/><circle cx="389.5" cy="336.5" r="4.86"/><circle cx="389.5" cy="336.5" r="4.86"/><circle cx="389.5" cy="336.5" r="4.86"/><circle cx="389.5" cy="336.5" r="4.86"/><circle cx="389.5" cy="336.5" r="4.86"/><circle cx="389.5" cy="337.5" r="4.86"/><circle cx="389.5" cy="337.5" r="4.86"/><circle cx="389.5" cy="337.5" r="4.86"/><circle cx="389.5" cy="337.5" r="4.86"/><circle cx="390.5" cy="337.5" r="4.86"/><circle cx="390.5" cy="337.5" r="4.86"/><circle cx="390.5" cy="337.5" r="4.86"/><circle cx="390.5" cy="337.5" r="4.86"/><circle cx="390.5" cy="337.5" r="4.86"/><circle cx="390.5" cy="337.5" r="4.86"/><circle cx="390.5" cy="337.5" r="4.86"/><circle cx="390.5" cy="337.5" r="4.86"/><circle cx="391.5" cy="337.5" r="4.86"/><circle cx="391.5" cy="337.5" r="4.86"/><circle cx="391.5" cy="337.5" r="4.86"/><circle cx="391.5" cy="337.5" r="4.86"/><circle cx="391.5" cy="337.5" r="4.86"/><circle cx="391.5" cy="337.5" r="4.86"/><circle cx="391.5" cy="337.5" r="4.86"/><circle cx="391.5" cy="337.5" r="4.86"/><circle cx="392.5" cy="337.5" r="4.86"/><circle cx="392.5" cy="337.5" r="4.86"/><circle cx="392.5" cy="337.5" r="4.86"/><circle cx="392.5" cy="337.5" r="4.86"/><circle cx="392.5" cy="337.5" r="4.86"/><circle cx="392.5" cy="337.5" r="4.86"/><circle cx="392.5" cy="337.5" r="4.86"/><circle cx="392.5" cy="337.5" r="4.86"/><circle cx="393.5" cy="337.5" r="4.86"/><circle cx="393.5" cy="337.5" r="4.86"/><circle cx="393.5" cy="337.5" r="4.86"/><circle cx="393.5" cy="337.5" r="4.86"/><circle cx="393.5" cy="337.5" r="4.86"/><circle cx="393.5" cy="337.5" r="4.86"/><circle cx="393.5" cy="337.5" r="4.86"/><circle cx="393.5" cy="337.5" r="4.86"/><circle cx="394.5" cy="337.5" r="4.86"/><circle cx="394.5" cy="337.5" r="4.86"/><circle cx="394.5" cy="337.5" r="4.86"/><circle cx="394.5" cy="337.5" r="4.86"/><circle cx="394.5" cy="337.5" r="4.86"/><circle cx="394.5" cy="337.5" r="4.86"/><circle cx="394.5" cy="337.5" r="4.86"/><circle cx="394.5" cy="337.5" r="4.86"/><circle cx="394.5" cy="338.5" r="4.86"/><circle cx="394.5" cy="338.5" r="4.86"/><circle cx="394.5" cy="338.5" r="4.86"/><circle cx="395.5" cy="338.5" r="4.86"/><circle cx="395.5" cy="338.5" r="4.86"/><circle cx="395.5" cy="338.5" r="4.86"/><circle cx="395.5" cy="338.5" r="4.86"/><circle cx="395.5" cy="338.5" r="4.86"/><circle cx="395.5" cy="338.5" r="4.86"/><circle cx="395.5" cy="338.5" r="4.86"/><circle cx="395.5" cy="338.5" r="4.86"/><circle cx="396.5" cy="338.5" r="4.86"/><circle cx="396.5" cy="338.5" r="4.86"/><circle cx="396.5" cy="338.5" r="4.86"/><circle cx="396.5" cy="338.5" r="4.86"/><circle cx="396.5" cy="338.5" r="4.86"/><circle cx="396.5" cy="338.5" r="4.86"/><circle cx="396.5" cy="338.5" r="4.86"/><circle cx="396.5" cy="338.5" r="4.86"/><circle cx="397.5" cy="338.5" r="4.86"/><circle cx="397.5" cy="338.5" r="4.86"/><circle cx="397.5" cy="338.5" r="4.86"/><circle cx="397.5" cy="338.5" r="4.86"/><circle cx="397.5" cy="338.5" r="4.86"/><circle cx="397.5" cy="338.5" r="4.86"/><circle cx="397.5" cy="338.5" r="4.86"/><circle cx="397.5" cy="338.5" r="4.86"/><circle cx="398.5" cy="338.5" r="4.86"/><circle cx="398.5" cy="338.5" r="4.86"/><circle cx="398.5" cy="338.5" r="4.86"/><circle cx="398.5" cy="338.5" r="4.86"/><circle cx="398.5" cy="338.5" r="4.86"/><circle cx="398.5" cy="338.5" r="4.86"/><circle cx="398.5" cy="338.5" r="4.86"/><circle cx="398.5" cy="338.5" r="4.86"/><circle cx="399.5" cy="338.5" r="4.86"/><circle cx="399.5" cy="338.5" r="4.86"/><circle cx="399.5" cy="338.5" r="4.86"/><circle cx="399.5" cy="338.5" r="4.86"/><circle cx="399.5" cy="338.5" r="4.86"/><circle cx="399.5" cy="338.5" r="4.86"/><circle cx="399.5" cy="338.5" r="4.86"/><circle cx="399.5" cy="338.5" r="4.86"/><circle cx="399.5" cy="339.5" r="4.86"/><circle cx="399.5" cy="339.5" r="4.86"/><circle cx="400.5" cy="339.5" r="4.86"/><circle cx="400.5" cy="339.5" r="4.86"/><circle cx="400.5" cy="339.5" r="4.86"/><circle cx="400.5" cy="339.5" r="4.86"/><circle cx="400.5" cy="339.5" r="4.86"/><circle cx="400.5" cy="339.5" r="4.86"/><circle cx="400.5" cy="339.5" r="4.86"/><circle cx="400.5" cy="339.5" r="4.86"/><circle cx="401.5" cy="339.5" r="4.86"/><circle cx="401.5" cy="339.5" r="4.86"/><circle cx="401.5" cy="339.5" r="4.86"/><circle cx="401.5" cy="339.5" r="4.86"/><circle cx="401.5" cy="339.5" r="4.86"/><circle cx="401.5" cy="339.5" r="4.86"/><circle cx="401.5" cy="339.5" r="4.86"/><circle cx="401.5" cy="339.5" r="4.86"/><circle cx="402.5" cy="339.5" r="4.86"/><circle cx="402.5" cy="339.5" r="4.86"/><circle cx="402.5" cy="339.5" r="4.86"/><circle cx="402.5" cy="339.5" r="4.86"/><circle cx="402.5" cy="339.5" r="4.86"/><circle cx="402.5" cy="339.5" r="4.86"/><circle cx="402.5" cy="339.5" r="4.86"/><circle cx="402.5" cy="339.5" r="4.86"/><circle cx="403.5" cy="339.5" r="4.86"/><circle cx="403.5" cy="339.5" r="4.86"/><circle cx="403.5" cy="339.5" r="4.86"/><circle cx="403.5" cy="339.5" r="4.86"/><circle cx="403.5" cy="339.5" r="4.86"/><circle cx="403.5" cy="339.5" r="4.86"/><circle cx="403.5" cy="339.5" r="4.86"/><circle cx="403.5" cy="339.5" r="4.86"/><circle cx="404.5" cy="339.5" r="4.86"/><circle cx="404.5" cy="339.5" r="4.86"/><circle cx="404.5" cy="339.5" r="4.86"/><circle cx="404.5" cy="339.5" r="4.86"/><circle cx="404.5" cy="339.5" r="4.86"/><circle cx="404.5" cy="339.5" r="4.86"/><circle cx="404.5" cy="339.5" r="4.86"/><circle cx="404.5" cy="339.5" r="4.86"/><circle cx="405.5" cy="339.5" r="4.86"/><circle cx="405.5" cy="339.5" r="4.86"/><circle cx="405.5" cy="339.5" r="4.86"/><circle cx="405.5" cy="340.5" r="4.86"/><circle cx="405.5" cy="340.5" r="4.86"/><circle cx="405.5" cy="340.5" r="4.86"/><circle cx="405.5" cy="340.5" r="4.86"/><circle cx="405.5" cy="340.5" r="4.86"/><circle cx="405.5" cy="340.5" r="4.86"/><circle cx="405.5" cy="340.5" r="4.86"/><circle cx="405.5" cy="340.5" r="4.86"/><circle cx="406.5" cy="340.5" r="4.86"/><circle cx="406.5" cy="340.5" r="4.86"/><circle cx="406.5" cy="340.5" r="4.86"/><circle cx="406.5" cy="340.5" r="4.86"/><circle cx="406.5" cy="340.5" r="4.86"/><circle cx="406.5" cy="340.5" r="4.86"/><circle cx="406.5" cy="340.5" r="4.86"/><circle cx="406.5" cy="340.5" r="4.86"/><circle cx="407.5" cy="340.5" r="4.86"/><circle cx="407.5" cy="340.5" r="4.86"/><circle cx="407.5" cy="340.5" r="4.86"/><circle cx="407.5" cy="340.5" r="4.86"/><circle cx="407.5" cy="340.5" r="4.86"/><circle cx="407.5" cy="340.5" r="4.86"/><circle cx="407.5" cy="340.5" r="4.86"/><circle cx="407.5" cy="340.5" r="4.86"/><circle cx="408.5" cy="340.5" r="4.86"/><circle cx="408.5" cy="340.5" r="4.86"/><circle cx="408.5" cy="340.5" r="4.86"/><circle cx="408.5" cy="340.5" r="4.86"/><circle cx="408.5" cy="340.5" r="4.86"/><circle cx="408.5" cy="340.5" r="4.86"/><circle cx="408.5" cy="340.5" r="4.86"/><circle cx="408.5" cy="340.5" r="4.86"/><circle cx="409.5" cy="340.5" r="4.86"/><circle cx="409.5" cy="340.5" r="4.86"/><circle cx="409.5" cy="340.5" r="4.86"/><circle cx="409.5" cy="340.5" r="4.86"/><circle cx="409.5" cy="340.5" r="4.86"/><circle cx="409.5" cy="340.5" r="4.86"/><circle cx="409.5" cy="340.5" r="4.86"/><circle cx="409.5" cy="340.5" r="4.86"/><circle cx="410.5" cy="340.5" r="4.86"/><circle cx="410.5" cy="340.5" r="4.86"/><circle cx="410.5" cy="340.5" r="4.86"/><circle cx="410.5" cy="340.5" r="4.86"/><circle cx="410.5" cy="340.5" r="4.86"/><circle cx="410.5" cy="340.5" r="4.86"/><circle cx="410.5" cy="340.5" r="4.86"/><circle cx="410.5" cy="340.5" r="4.86"/><circle cx="411.5" cy="340.5" r="4.86"/><circle cx="411.5" cy="340.5" r="4.86"/><circle cx="411.5" cy="340.5" r="4.86"/><circle cx="411.5" cy="340.5" r="4.86"/><circle cx="411.5" cy="340.5" r="4.86"/><circle cx="411.5" cy="340.5" r="4.86"/><circle cx="411.5" cy="340.5" r="4.86"/><circle cx="411.5" cy="340.5" r="4.86"/><circle cx="411.5" cy="341.5" r="4.86"/><circle cx="411.5" cy="341.5" r="4.86"/><circle cx="411.5" cy="341.5" r="4.86"/><circle cx="411.5" cy="341.5" r="4.86"/><circle cx="411.5" cy="341.5" r="4.86"/><circle cx="411.5" cy="341.5" r="4.86"/><circle cx="411.5" cy="341.5" r="4.86"/><circle cx="411.5" cy="341.5" r="4.86"/><circle cx="412.5" cy="341.5" r="4.86"/><circle cx="412.5" cy="341.5" r="4.86"/><circle cx="412.5" cy="341.5" r="4.86"/><circle cx="412.5" cy="341.5" r="4.86"/><circle cx="412.5" cy="341.5" r="4.86"/><circle cx="412.5" cy="341.5" r="4.86"/><circle cx="412.5" cy="341.5" r="4.86"/><circle cx="412.5" cy="341.5" r="4.86"/><circle cx="413.5" cy="341.5" r="4.86"/><circle cx="413.5" cy="341.5" r="4.86"/><circle cx="413.5" cy="341.5" r="4.86"/><circle cx="413.5" cy="341.5" r="4.86"/><circle cx="413.5" cy="341.5" r="4.86"/><circle cx="413.5" cy="341.5" r="4.86"/><circle cx="413.5" cy="341.5" r="4.86"/><circle cx="413.5" cy="341.5" r="4.86"/><circle cx="414.5" cy="341.5" r="4.86"/><circle cx="414.5" cy="341.5" r="4.86"/><circle cx="414.5" cy="341.5" r="4.86"/><circle cx="414.5" cy="341.5" r="4.86"/><circle cx="414.5" cy="341.5" r="4.86"/><circle cx="414.5" cy="341.5" r="4.86"/><circle cx="414.5" cy="341.5" r="4.86"/><circle cx="414.5" cy="341.5" r="4.86"/><circle cx="415.5" cy="341.5" r="4.86"/><circle cx="415.5" cy="341.5" r="4.86"/><circle cx="415.5" cy="341.5" r="4.86"/><circle cx="415.5" cy="341.5" r="4.86"/><circle cx="415.5" cy="341.5" r="4.86"/><circle cx="415.5" cy="341.5" r="4.86"/><circle cx="415.5" cy="341.5" r="4.86"/><circle cx="415.5" cy="341.5" r="4.86"/><circle cx="416.5" cy="341.5" r="4.86"/><circle cx="416.5" cy="341.5" r="4.86"/><circle cx="416.5" cy="341.5" r="4.86"/><circle cx="416.5" cy="341.5" r="4.86"/><circle cx="416.5" cy="341.5" r="4.86"/><circle cx="416.5" cy="341.5" r="4.86"/><circle cx="416.5" cy="341.5" r="4.86"/><circle cx="416.5" cy="341.5" r="4.86"/><circle cx="417.5" cy="341.5" r="4.86"/><circle cx="417.5" cy="341.5" r="4.86"/><circle cx="417.5" cy="341.5" r="4.86"/><circle cx="417.5" cy="341.5" r="4.86"/><circle cx="417.5" cy="341.5" r="4.86"/><circle cx="417.5" cy="341.5" r="4.86"/><circle cx="417.5" cy="341.5" r="4.86"/><circle cx="417.5" cy="341.5" r="4.86"/><circle cx="418.5" cy="341.5" r="4.86"/><circle cx="418.5" cy="341.5" r="4.86"/><circle cx="418.5" cy="341.5" r="4.86"/><circle cx="418.5" cy="341.5" r="4.86"/><circle cx="418.5" cy="341.5" r="4.86"/><circle cx="418.5" cy="341.5" r="4.86"/><circle cx="418.5" cy="341.5" r="4.86"/><circle cx="418.5" cy="341.5" r="4.86"/><circle cx="418.5" cy="342.5" r="4.86"/><circle cx="418.5" cy="342.5" r="4.86"/><circle cx="418.5" cy="342.5" r="4.86"/><circle cx="418.5" cy="342.5" r="4.86"/><circle cx="418.5" cy="342.5" r="4.86"/><circle cx="418.5" cy="342.5" r="4.86"/><circle cx="418.5" cy="342.5" r="4.86"/><circle cx="418.5" cy="342.5" r="4.86"/><circle cx="419.5" cy="342.5" r="4.86"/><circle cx="419.5" cy="342.5" r="4.86"/><circle cx="419.5" cy="342.5" r="4.86"/><circle cx="419.5" cy="342.5" r="4.86"/><circle cx="419.5" cy="342.5" r="4.86"/><circle cx="419.5" cy="342.5" r="4.86"/><circle cx="419.5" cy="342.5" r="4.86"/><circle cx="419.5" cy="342.5" r="4.86"/><circle cx="420.5" cy="342.5" r="4.86"/><circle cx="420.5" cy="342.5" r="4.86"/><circle cx="420.5" cy="342.5" r="4.86"/><circle cx="420.5" cy="342.5" r="4.86"/><circle cx="420.5" cy="342.5" r="4.86"/><circle cx="420.5" cy="342.5" r="4.86"/><circle cx="420.5" cy="342.5" r="4.86"/><circle cx="420.5" cy="342.5" r="4.86"/><circle cx="421.5" cy="342.5" r="4.86"/><circle cx="421.5" cy="342.5" r="4.86"/><circle cx="421.5" cy="342.5" r="4.86"/><circle cx="421.5" cy="342.5" r="4.86"/><circle cx="421.5" cy="342.5" r="4.86"/><circle cx="421.5" cy="342.5" r="4.86"/><circle cx="421.5" cy="342.5" r="4.86"/><circle cx="421.5" cy="342.5" r="4.86"/><circle cx="422.5" cy="342.5" r="4.86"/><circle cx="422.5" cy="342.5" r="4.86"/><circle cx="422.5" cy="342.5" r="4.86"/><circle cx="422.5" cy="342.5" r="4.86"/><circle cx="422.5" cy="342.5" r="4.86"/><circle cx="422.5" cy="342.5" r="4.86"/><circle cx="422.5" cy="342.5" r="4.86"/><circle cx="422.5" cy="342.5" r="4.86"/><circle cx="423.5" cy="342.5" r="4.86"/><circle cx="423.5" cy="342.5" r="4.86"/><circle cx="423.5" cy="342.5" r="4.86"/><circle cx="423.5" cy="342.5" r="4.86"/><circle cx="423.5" cy="342.5" r="4.86"/><circle cx="423.5" cy="342.5" r="4.86"/><circle cx="423.5" cy="342.5" r="4.86"/><circle cx="423.5" cy="342.5" r="4.86"/><circle cx="424.5" cy="342.5" r="4.86"/><circle cx="424.5" cy="342.5" r="4.86"/><circle cx="424.5" cy="342.5" r="4.86"/><circle cx="424.5" cy="342.5" r="4.86"/><circle cx="424.5" cy="342.5" r="4.86"/><circle cx="424.5" cy="342.5" r="4.86"/><circle cx="424.5" cy="342.5" r="4.86"/><circle cx="424.5" cy="342.5" r="4.86"/><circle cx="425.5" cy="342.5" r="4.86"/><circle cx="425.5" cy="342.5" r="4.86"/><circle cx="425.5" cy="342.5" r="4.86"/><circle cx="425.5" cy="342.5" r="4.86"/><circle cx="425.5" cy="342.5" r="4.86"/><circle cx="425.5" cy="342.5" r="4.86"/><circle cx="425.5" cy="342.5" r="4.86"/><circle cx="425.5" cy="342.5" r="4.86"/><circle cx="425.5" cy="343.5" r="4.86"/><circle cx="425.5" cy="343.5" r="4.86"/><circle cx="425.5" cy="343.5" r="4.86"/><circle cx="425.5" cy="343.5" r="4.86"/><circle cx="425.5" cy="343.5" r="4.86"/><circle cx="425.5" cy="343.5" r="4.86"/><circle cx="425.5" cy="343.5" r="4.86"/><circle cx="425.5" cy="343.5" r="4.86"/><circle cx="426.5" cy="343.5" r="4.86"/><circle cx="426.5" cy="343.5" r="4.86"/><circle cx="426.5" cy="343.5" r="4.86"/><circle cx="426.5" cy="343.5" r="4.86"/><circle cx="426.5" cy="343.5" r="4.86"/><circle cx="426.5" cy="343.5" r="4.86"/><circle cx="426.5" cy="343.5" r="4.86"/><circle cx="426.5" cy="343.5" r="4.86"/><circle cx="427.5" cy="343.5" r="4.86"/><circle cx="427.5" cy="343.5" r="4.86"/><circle cx="427.5" cy="343.5" r="4.86"/><circle cx="427.5" cy="343.5" r="4.86"/><circle cx="427.5" cy="343.5" r="4.86"/><circle cx="427.5" cy="343.5" r="4.86"/><circle cx="427.5" cy="343.5" r="4.86"/><circle cx="427.5" cy="343.5" r="4.86"/><circle cx="428.5" cy="343.5" r="4.86"/><circle cx="428.5" cy="343.5" r="4.86"/><circle cx="428.5" cy="343.5" r="4.86"/><circle cx="428.5" cy="343.5" r="4.86"/><circle cx="428.5" cy="343.5" r="4.86"/><circle cx="428.5" cy="343.5" r="4.86"/><circle cx="428.5" cy="343.5" r="4.86"/><circle cx="428.5" cy="343.5" r="4.86"/><circle cx="429.5" cy="343.5" r="4.86"/><circle cx="429.5" cy="343.5" r="4.86"/><circle cx="429.5" cy="343.5" r="4.86"/><circle cx="429.5" cy="343.5" r="4.86"/><circle cx="429.5" cy="343.5" r="4.86"/><circle cx="429.5" cy="343.5" r="4.86"/><circle cx="429.5" cy="343.5" r="4.86"/><circle cx="429.5" cy="343.5" r="4.86"/><circle cx="430.5" cy="343.5" r="4.86"/><circle cx="430.5" cy="343.5" r="4.86"/><circle cx="430.5" cy="343.5" r="4.86"/><circle cx="430.5" cy="343.5" r="4.86"/><circle cx="430.5" cy="343.5" r="4.86"/><circle cx="430.5" cy="343.5" r="4.86"/><circle cx="430.5" cy="343.5" r="4.86"/><circle cx="430.5" cy="343.5" r="4.86"/><circle cx="431.5" cy="343.5" r="4.86"/><circle cx="431.5" cy="343.5" r="4.86"/><circle cx="431.5" cy="343.5" r="4.86"/><circle cx="431.5" cy="343.5" r="4.86"/><circle cx="431.5" cy="343.5" r="4.86"/><circle cx="431.5" cy="343.5" r="4.86"/><circle cx="431.5" cy="343.5" r="4.86"/><circle cx="431.5" cy="343.5" r="4.86"/><circle cx="432.5" cy="343.5" r="4.86"/><circle cx="432.5" cy="343.5" r="4.86"/><circle cx="432.5" cy="343.5" r="4.86"/><circle cx="432.5" cy="343.5" r="4.86"/><circle cx="432.5" cy="343.5" r="4.86"/><circle cx="432.5" cy="343.5" r="4.86"/><circle cx="432.5" cy="343.5" r="4.86"/><circle cx="432.5" cy="343.5" r="4.86"/><circle cx="433.5" cy="343.5" r="4.86"/><circle cx="433.5" cy="343.5" r="4.86"/><circle cx="433.5" cy="343.5" r="4.86"/><circle cx="433.5" cy="343.5" r="4.86"/><circle cx="433.5" cy="343.5" r="4.86"/><circle cx="433.5" cy="343.5" r="4.86"/><circle cx="433.5" cy="343.5" r="4.86"/><circle cx="433.5" cy="343.5" r="4.86"/><circle cx="434.5" cy="343.5" r="4.86"/><circle cx="434.5" cy="343.5" r="4.86"/><circle cx="434.5" cy="343.5" r="4.86"/><circle cx="434.5" cy="343.5" r="4.86"/><circle cx="434.5" cy="343.5" r="4.86"/><circle cx="434.5" cy="343.5" r="4.86"/><circle cx="434.5" cy="343.5" r="4.86"/><circle cx="434.5" cy="343.5" r="4.86"/><circle cx="434.5" cy="344.5" r="4.86"/><circle cx="434.5" cy="344.5" r="4.86"/><circle cx="434.5" cy="344.5" r="4.86"/><circle cx="434.5" cy="344.5" r="4.86"/><circle cx="434.5" cy="344.5" r="4.86"/><circle cx="434.5" cy="344.5" r="4.86"/><circle cx="434.5" cy="344.5" r="4.86"/><circle cx="434.5" cy="344.5" r="4.86"/><circle cx="435.5" cy="344.5" r="4.86"/><circle cx="435.5" cy="344.5" r="4.86"/><circle cx="435.5" cy="344.5" r="4.86"/><circle cx="435.5" cy="344.5" r="4.86"/><circle cx="435.5" cy="344.5" r="4.86"/><circle cx="435.5" cy="344.5" r="4.86"/><circle cx="435.5" cy="344.5" r="4.86"/><circle cx="435.5" cy="344.5" r="4.86"/><circle cx="436.5" cy="344.5" r="4.86"/><circle cx="436.5" cy="344.5" r="4.86"/><circle cx="436.5" cy="344.5" r="4.86"/><circle cx="436.5" cy="344.5" r="4.86"/><circle cx="436.5" cy="344.5" r="4.86"/><circle cx="436.5" cy="344.5" r="4.86"/><circle cx="436.5" cy="344.5" r="4.86"/><circle cx="436.5" cy="344.5" r="4.86"/><circle cx="437.5" cy="344.5" r="4.86"/><circle cx="437.5" cy="344.5" r="4.86"/><circle cx="437.5" cy="344.5" r="4.86"/><circle cx="437.5" cy="344.5" r="4.86"/><circle cx="437.5" cy="344.5" r="4.86"/><circle cx="437.5" cy="344.5" r="4.86"/><circle cx="437.5" cy="344.5" r="4.86"/><circle cx="437.5" cy="344.5" r="4.86"/><circle cx="438.5" cy="344.5" r="4.86"/><circle cx="438.5" cy="344.5" r="4.86"/><circle cx="438.5" cy="344.5" r="4.86"/><circle cx="438.5" cy="344.5" r="4.86"/><circle cx="438.5" cy="344.5" r="4.86"/><circle cx="438.5" cy="344.5" r="4.86"/><circle cx="438.5" cy="344.5" r="4.86"/><circle cx="438.5" cy="344.5" r="4.86"/><circle cx="439.5" cy="344.5" r="4.86"/><circle cx="439.5" cy="344.5" r="4.86"/><circle cx="439.5" cy="344.5" r="4.86"/><circle cx="439.5" cy="344.5" r="4.86"/><circle cx="439.5" cy="344.5" r="4.86"/><circle cx="439.5" cy="344.5" r="4.86"/><circle cx="439.5" cy="344.5" r="4.86"/><circle cx="439.5" cy="344.5" r="4.86"/><circle cx="440.5" cy="344.5" r="4.86"/><circle cx="440.5" cy="344.5" r="4.86"/><circle cx="440.5" cy="344.5" r="4.86"/><circle cx="440.5" cy="344.5" r="4.86"/><circle cx="440.5" cy="344.5" r="4.86"/><circle cx="440.5" cy="344.5" r="4.86"/><circle cx="440.5" cy="344.5" r="4.86"/><circle cx="440.5" cy="344.5" r="4.86"/><circle cx="441.5" cy="344.5" r="4.86"/><circle cx="441.5" cy="344.5" r="4.86"/><circle cx="441.5" cy="344.5" r="4.86"/><circle cx="441.5" cy="344.5" r="4.86"/><circle cx="441.5" cy="344.5" r="4.86"/><circle cx="441.5" cy="344.5" r="4.86"/><circle cx="441.5" cy="344.5" r="4.86"/><circle cx="441.5" cy="344.5" r="4.86"/><circle cx="442.5" cy="344.5" r="4.86"/><circle cx="442.5" cy="344.5" r="4.86"/><circle cx="442.5" cy="344.5" r="4.86"/><circle cx="442.5" cy="344.5" r="4.86"/><circle cx="442.5" cy="344.5" r="4.86"/><circle cx="442.5" cy="344.5" r="4.86"/><circle cx="442.5" cy="344.5" r="4.86"/><circle cx="442.5" cy="344.5" r="4.86"/><circle cx="443.5" cy="344.5" r="4.86"/><circle cx="443.5" cy="344.5" r="4.86"/><circle cx="443.5" cy="344.5" r="4.86"/><circle cx="443.5" cy="344.5" r="4.86"/><circle cx="443.5" cy="344.5" r="4.86"/><circle cx="443.5" cy="344.5" r="4.86"/><circle cx="443.5" cy="344.5" r="4.86"/><circle cx="443.5" cy="344.5" r="4.86"/><circle cx="444.5" cy="344.5" r="4.86"/><circle cx="444.5" cy="344.5" r="4.86"/><circle cx="444.5" cy="344.5" r="4.86"/><circle cx="444.5" cy="344.5" r="4.86"/><circle cx="444.5" cy="344.5" r="4.86"/><circle cx="444.5" cy="344.5" r="4.86"/><circle cx="444.5" cy="344.5" r="4.86"/><circle cx="444.5" cy="344.5" r="4.86"/><circle cx="445.5" cy="344.5" r="4.86"/><circle cx="445.5" cy="344.5" r="4.86"/><circle cx="445.5" cy="344.5" r="4.86"/><circle cx="445.5" cy="344.5" r="4.86"/><circle cx="445.5" cy="344.5" r="4.86"/><circle cx="445.5" cy="344.5" r="4.86"/><circle cx="445.5" cy="344.5" r="4.86"/><circle cx="445.5" cy="344.5" r="4.86"/><circle cx="445.5" cy="345.5" r="4.86"/><circle cx="445.5" cy="345.5" r="4.86"/><circle cx="445.5" cy="345.5" r="4.86"/><circle cx="445.5" cy="345.5" r="4.86"/><circle cx="445.5" cy="345.5" r="4.86"/><circle cx="445.5" cy="345.5" r="4.86"/><circle cx="445.5" cy="345.5" r="4.86"/><circle cx="445.5" cy="345.5" r="4.86"/><circle cx="446.5" cy="345.5" r="4.86"/><circle cx="446.5" cy="345.5" r="4.86"/><circle cx="446.5" cy="345.5" r="4.86"/><circle cx="446.5" cy="345.5" r="4.86"/><circle cx="446.5" cy="345.5" r="4.86"/><circle cx="446.5" cy="345.5" r="4.86"/><circle cx="446.5" cy="345.5" r="4.86"/><circle cx="446.5" cy="345.5" r="4.86"/><circle cx="447.5" cy="345.5" r="4.86"/><circle cx="447.5" cy="345.5" r="4.86"/><circle cx="447.5" cy="345.5" r="4.86"/><circle cx="447.5" cy="345.5" r="4.86"/><circle cx="447.5" cy="345.5" r="4.86"/><circle cx="447.5" cy="345.5" r="4.86"/><circle cx="447.5" cy="345.5" r="4.86"/><circle cx="447.5" cy="345.5" r="4.86"/><circle cx="448.5" cy="345.5" r="4.86"/><circle cx="448.5" cy="345.5" r="4.86"/><circle cx="448.5" cy="345.5" r="4.86"/><circle cx="448.5" cy="345.5" r="4.86"/><circle cx="448.5" cy="345.5" r="4.86"/><circle cx="448.5" cy="345.5" r="4.86"/><circle cx="448.5" cy="345.5" r="4.86"/><circle cx="448.5" cy="345.5" r="4.86"/><circle cx="449.5" cy="345.5" r="4.86"/><circle cx="449.5" cy="345.5" r="4.86"/><circle cx="449.5" cy="345.5" r="4.86"/><circle cx="449.5" cy="345.5" r="4.86"/><circle cx="449.5" cy="345.5" r="4.86"/><circle cx="449.5" cy="345.5" r="4.86"/><circle cx="449.5" cy="345.5" r="4.86"/><circle cx="449.5" cy="345.5" r="4.86"/><circle cx="450.5" cy="345.5" r="4.86"/><circle cx="450.5" cy="345.5" r="4.86"/><circle cx="450.5" cy="345.5" r="4.86"/><circle cx="450.5" cy="345.5" r="4.86"/><circle cx="450.5" cy="345.5" r="4.86"/><circle cx="450.5" cy="345.5" r="4.86"/><circle cx="450.5" cy="345.5" r="4.86"/><circle cx="450.5" cy="345.5" r="4.86"/><circle cx="451.5" cy="345.5" r="4.86"/><circle cx="451.5" cy="345.5" r="4.86"/><circle cx="451.5" cy="345.5" r="4.86"/><circle cx="451.5" cy="345.5" r="4.86"/><circle cx="451.5" cy="345.5" r="4.86"/><circle cx="451.5" cy="345.5" r="4.86"/><circle cx="451.5" cy="345.5" r="4.86"/><circle cx="451.5" cy="345.5" r="4.86"/><circle cx="452.5" cy="345.5" r="4.86"/><circle cx="452.5" cy="345.5" r="4.86"/><circle cx="452.5" cy="345.5" r="4.86"/><circle cx="452.5" cy="345.5" r="4.86"/><circle cx="452.5" cy="345.5" r="4.86"/><circle cx="452.5" cy="345.5" r="4.86"/><circle cx="452.5" cy="345.5" r="4.86"/><circle cx="452.5" cy="345.5" r="4.86"/><circle cx="453.5" cy="345.5" r="4.86"/><circle cx="453.5" cy="345.5" r="4.86"/><circle cx="453.5" cy="345.5" r="4.86"/><circle cx="453.5" cy="345.5" r="4.86"/><circle cx="453.5" cy="345.5" r="4.86"/><circle cx="453.5" cy="345.5" r="4.86"/><circle cx="453.5" cy="345.5" r="4.86"/><circle cx="453.5" cy="345.5" r="4.86"/><circle cx="454.5" cy="345.5" r="4.86"/><circle cx="454.5" cy="345.5" r="4.86"/><circle cx="454.5" cy="345.5" r="4.86"/><circle cx="454.5" cy="345.5" r="4.86"/><circle cx="454.5" cy="345.5" r="4.86"/><circle cx="454.5" cy="345.5" r="4.86"/><circle cx="454.5" cy="345.5" r="4.86"/><circle cx="454.5" cy="345.5" r="4.86"/><circle cx="455.5" cy="345.5" r="4.86"/><circle cx="455.5" cy="345.5" r="4.86"/><circle cx="455.5" cy="345.5" r="4.86"/><circle cx="455.5" cy="345.5" r="4.86"/><circle cx="455.5" cy="345.5" r="4.86"/><circle cx="455.5" cy="345.5" r="4.86"/><circle cx="455.5" cy="345.5" r="4.86"/><circle cx="455.5" cy="345.5" r="4.86"/></g>
<g fill="#ff0000" shape-rendering="crispEdges"></g>
<g stroke="#0000ff" stroke-width="1.39"><line x1="100.6" y1="74.5" x2="106.4" y2="74.5"/><line x1="100.6" y1="410.5" x2="106.4" y2="410.5"/><line x1="190.6" y1="210.5" x2="196.4" y2="210.5"/><line x1="190.6" y1="377.5" x2="196.4" y2="377.5"/><line x1="280.6" y1="276.5" x2="286.4" y2="276.5"/><line x1="280.6" y1="361.5" x2="286.4" y2="361.5"/><line x1="370.6" y1="318.5" x2="376.4" y2="318.5"/><line x1="370.6" y1="351.5" x2="376.4" y2="351.5"/><line x1="460.6" y1="347.5" x2="466.4" y2="347.5"/></g>
<g fill="#0000ff" stroke="#0000ff" stroke-width="1.39" stroke-linejoin="miter"><polygon points="103.5,236.61 109.39,242.5 103.5,248.39 97.61,242.5"/><polygon points="193.5,288.61 199.39,294.5 193.5,300.39 187.61,294.5"/><polygon points="283.5,312.61 289.39,318.5 283.5,324.39 277.61,318.5"/><polygon points="373.5,329.61 379.39,335.5 373.5,341.39 367.61,335.5"/><polygon points="463.5,336.61 469.39,342.5 463.5,348.39 457.61,342.5"/><polygon points="553.5,339.61 559.39,345.5 553.5,351.39 547.61,345.5"/></g>
<rect x="80.5" y="58.5" width="496" height="369" fill="none" stroke="#000" stroke-width="1.11"/>
<g stroke="#000" stroke-width="1.11"><line x1="75.1" y1="64.5" x2="80" y2="64.5"/><line x1="75.1" y1="120.5" x2="80" y2="120.5"/><line x1="75.1" y1="177.5" x2="80" y2="177.5"/><line x1="75.1" y1="233.5" x2="80" y2="233.5"/><line x1="75.1" y1="289.5" x2="80" y2="289.5"/><line x1="75.1" y1="345.5" x2="80" y2="345.5"/><line x1="75.1" y1="402.5" x2="80" y2="402.5"/><line x1="103.5" y1="427.5" x2="103.5" y2="432.4"/><line x1="193.5" y1="427.5" x2="193.5" y2="432.4"/><line x1="283.5" y1="427.5" x2="283.5" y2="432.4"/><line x1="373.5" y1="427.5" x2="373.5" y2="432.4"/><line x1="463.5" y1="427.5" x2="463.5" y2="432.4"/><line x1="553.5" y1="427.5" x2="553.5" y2="432.4"/></g>
<g stroke="#000" stroke-width="0.83"><line x1="83.5" y1="427.5" x2="83.5" y2="430.3"/><line x1="89.5" y1="427.5" x2="89.5" y2="430.3"/><line x1="94.5" y1="427.5" x2="94.5" y2="430.3"/><line x1="99.5" y1="427.5" x2="99.5" y2="430.3"/><line x1="130.5" y1="427.5" x2="130.5" y2="430.3"/><line x1="146.5" y1="427.5" x2="146.5" y2="430.3"/><line x1="157.5" y1="427.5" x2="157.5" y2="430.3"/><line x1="166.5" y1="427.5" x2="166.5" y2="430.3"/><line x1="173.5" y1="427.5" x2="173.5" y2="430.3"/><line x1="179.5" y1="427.5" x2="179.5" y2="430.3"/><line x1="184.5" y1="427.5" x2="184.5" y2="430.3"/><line x1="189.5" y1="427.5" x2="189.5" y2="430.3"/><line x1="220.5" y1="427.5" x2="220.5" y2="430.3"/><line x1="236.5" y1="427.5" x2="236.5" y2="430.3"/><line x1="247.5" y1="427.5" x2="247.5" y2="430.3"/><line x1="256.5" y1="427.5" x2="256.5" y2="430.3"/><line x1="263.5" y1="427.5" x2="263.5" y2="430.3"/><line x1="269.5" y1="427.5" x2="269.5" y2="430.3"/><line x1="274.5" y1="427.5" x2="274.5" y2="430.3"/><line x1="279.5" y1="427.5" x2="279.5" y2="430.3"/><line x1="310.5" y1="427.5" x2="310.5" y2="430.3"/><line x1="326.5" y1="427.5" x2="326.5" y2="430.3"/><line x1="337.5" y1="427.5" x2="337.5" y2="430.3"/><line x1="346.5" y1="427.5" x2="346.5" y2="430.3"/><line x1="353.5" y1="427.5" x2="353.5" y2="430.3"/><line x1="359.5" y1="427.5" x2="359.5" y2="430.3"/><line x1="364.5" y1="427.5" x2="364.5" y2="430.3"/><line x1="369.5" y1="427.5" x2="369.5" y2="430.3"/><line x1="400.5" y1="427.5" x2="400.5" y2="430.3"/><line x1="416.5" y1="427.5" x2="416.5" y2="430.3"/><line x1="427.5" y1="427.5" x2="427.5" y2="430.3"/><line x1="436.5" y1="427.5" x2="436.5" y2="430.3"/><line x1="443.5" y1="427.5" x2="443.5" y2="430.3"/><line x1="449.5" y1="427.5" x2="449.5" y2="430.3"/><line x1="454.5" y1="427.5" x2="454.5" y2="430.3"/><line x1="459.5" y1="427.5" x2="459.5" y2="430.3"/><line x1="490.5" y1="427.5" x2="490.5" y2="430.3"/><line x1="506.5" y1="427.5" x2="506.5" y2="430.3"/><line x1="517.5" y1="427.5" x2="517.5" y2="430.3"/><line x1="526.5" y1="427.5" x2="526.5" y2="430.3"/><line x1="533.5" y1="427.5" x2="533.5" y2="430.3"/><line x1="539.5" y1="427.5" x2="539.5" y2="430.3"/><line x1="544.5" y1="427.5" x2="544.5" y2="430.3"/><line x1="549.5" y1="427.5" x2="549.5" y2="430.3"/></g>
<g font-family="Liberation Sans, sans-serif" font-size="14.5" fill="#000"><text x="52.94" y="69.9" textLength="16.61" lengthAdjust="spacingAndGlyphs">10</text><text x="61.06" y="125.9" textLength="8.96" lengthAdjust="spacingAndGlyphs">8</text><text x="60.95" y="181.9" textLength="9.13" lengthAdjust="spacingAndGlyphs">6</text><text x="62.32" y="237.9" textLength="8.12" lengthAdjust="spacingAndGlyphs">4</text><text x="61.04" y="294.9" textLength="8.16" lengthAdjust="spacingAndGlyphs">2</text><text x="62.04" y="350.9" textLength="8.56" lengthAdjust="spacingAndGlyphs">0</text><text x="60.49" y="406.9" textLength="8.22" lengthAdjust="spacingAndGlyphs">2</text><rect x="51" y="401.9" width="9" height="1.15"/><text x="91.12" y="452" font-size="14.5">10</text><text x="107.84" y="446.8" font-size="10.3" textLength="6.2" lengthAdjust="spacingAndGlyphs">0</text><text x="181.12" y="452" font-size="14.5">10</text><text x="198.19" y="446.8" font-size="10.3" textLength="6.2" lengthAdjust="spacingAndGlyphs">1</text><text x="271.12" y="452" font-size="14.5">10</text><text x="288.21" y="446.8" font-size="10.3" textLength="6.2" lengthAdjust="spacingAndGlyphs">2</text><text x="361.12" y="452" font-size="14.5">10</text><text x="378.34" y="446.8" font-size="10.3" textLength="6.2" lengthAdjust="spacingAndGlyphs">3</text><text x="452.12" y="452" font-size="14.5">10</text><text x="468.98" y="446.8" font-size="10.3" textLength="6.2" lengthAdjust="spacingAndGlyphs">4</text><text x="542.12" y="452" font-size="14.5">10</text><text x="559.21" y="446.8" font-size="10.3" textLength="6.2" lengthAdjust="spacingAndGlyphs">5</text>
<text x="231.98" y="472" font-size="14.7" textLength="45.84" lengthAdjust="spacingAndGlyphs">Target</text><text x="282.02" y="472" font-size="14.7" textLength="28.18" lengthAdjust="spacingAndGlyphs">CRE</text><text x="315.3" y="472" font-size="14.7" textLength="35.69" lengthAdjust="spacingAndGlyphs">score</text><text x="355.81" y="472" font-size="14.7" textLength="31.2" lengthAdjust="spacingAndGlyphs">rank</text><text x="391.52" y="472" font-size="14.7" textLength="33" lengthAdjust="spacingAndGlyphs">(log)</text>
<text transform="translate(39.8 244) rotate(-90)" text-anchor="middle" font-size="14.7" textLength="120.7" lengthAdjust="spacingAndGlyphs">Target CRE score</text>
<text x="157.97" y="49" font-size="17.0" textLength="54.17" lengthAdjust="spacingAndGlyphs">Target</text><text x="217.47" y="49" font-size="17.0" textLength="33.85" lengthAdjust="spacingAndGlyphs">CRE</text><text x="257.26" y="49" font-size="17.0" textLength="59.21" lengthAdjust="spacingAndGlyphs">scores,</text><text x="321.58" y="49" font-size="17.0" textLength="50.39" lengthAdjust="spacingAndGlyphs">based</text><text x="376.96" y="49" font-size="17.0" textLength="26.31" lengthAdjust="spacingAndGlyphs">on:</text><text x="408.77" y="49" font-size="17.0" textLength="41.83" lengthAdjust="spacingAndGlyphs">8012</text><text x="456.16" y="49" font-size="17.0" textLength="42.45" lengthAdjust="spacingAndGlyphs">CREs</text>
</g>
<rect x="320.5" y="65.3" width="249" height="46" rx="2.8" fill="#fff" fill-opacity="0.8" stroke="#d3d3d3" stroke-width="1.2"/>
<circle cx="339.5" cy="76.5" r="4.86" fill="#ff0000"/>
<g stroke="#0000ff" stroke-width="2.08"><line x1="339.5" y1="90.4" x2="339.5" y2="104.4"/></g>
<g stroke="#0000ff" stroke-width="1.39"><line x1="336.6" y1="90.4" x2="342.4" y2="90.4"/><line x1="336.6" y1="104.4" x2="342.4" y2="104.4"/></g>
<polygon points="339.5,91.51 345.39,97.4 339.5,103.29 333.61,97.4" fill="#0000ff" stroke="#0000ff" stroke-width="1.39"/>
<g font-family="Liberation Sans, sans-serif" font-size="14.7" fill="#000">
<text x="364.22" y="80.6" font-size="14.7" textLength="41.57" lengthAdjust="spacingAndGlyphs">target</text><text x="411.13" y="80.6" font-size="14.7" textLength="27.66" lengthAdjust="spacingAndGlyphs">CRE</text><text x="443.77" y="80.6" font-size="14.7" textLength="37.86" lengthAdjust="spacingAndGlyphs">score</text>
<text x="363.73" y="101.6" font-size="14.7" textLength="39.33" lengthAdjust="spacingAndGlyphs">mean</text><text x="407.57" y="101.6" font-size="14.7" textLength="37.86" lengthAdjust="spacingAndGlyphs">score</text><text x="449.89" y="101.6" font-size="14.7" textLength="42.55" lengthAdjust="spacingAndGlyphs">across</text><text x="497.96" y="101.6" font-size="14.7" textLength="17.48" lengthAdjust="spacingAndGlyphs">all</text><text x="519.08" y="101.6" font-size="14.7" textLength="43.76" lengthAdjust="spacingAndGlyphs">motifs</text>
</g>
</svg>
</body></html>
